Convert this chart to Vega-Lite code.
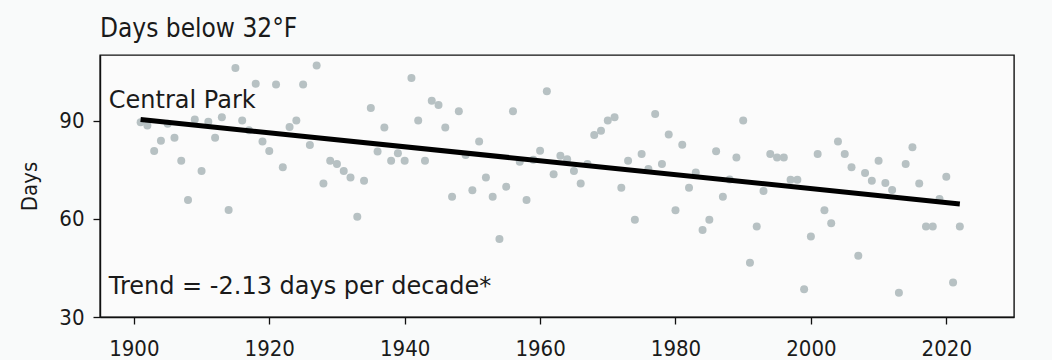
{
  "$schema": "https://vega.github.io/schema/vega-lite/v6.json",
  "autosize": {"type": "none"},
  "width": 914,
  "height": 262,
  "padding": {"left": 100, "top": 55, "right": 38, "bottom": 43},
  "background": "#f9fafa",
  "title": {"text": "Days below 32°F", "anchor": "start", "frame": "group", "fontSize": 26, "font": "DejaVu Sans Condensed, DejaVu Sans", "fontWeight": "normal", "color": "#1a1a1a", "offset": 13},
  "config": {
    "view": {"stroke": "#111111", "strokeWidth": 1.4, "fill": "#fbfbfb"},
    "axis": {"grid": false, "domainColor": "#111111", "domainWidth": 1.4, "tickColor": "#111111", "tickWidth": 1.3, "tickSize": 7, "labelFont": "DejaVu Sans Condensed, DejaVu Sans", "labelFontSize": 22, "labelColor": "#1a1a1a", "titleFont": "DejaVu Sans Condensed, DejaVu Sans", "titleFontWeight": "normal", "titleColor": "#1a1a1a"}
  },
  "datasets": {
    "days": [
      {"year": 1901, "days": 89.5}, {"year": 1902, "days": 88.5}, {"year": 1903, "days": 80.7}, {"year": 1904, "days": 83.8}, {"year": 1905, "days": 89}, {"year": 1906, "days": 84.7}, {"year": 1907, "days": 77.7}, {"year": 1908, "days": 65.7}, {"year": 1909, "days": 90.3}, {"year": 1910, "days": 74.6},
      {"year": 1911, "days": 89.6}, {"year": 1912, "days": 84.7}, {"year": 1913, "days": 91}, {"year": 1914, "days": 62.7}, {"year": 1915, "days": 106}, {"year": 1916, "days": 90}, {"year": 1917, "days": 87}, {"year": 1918, "days": 101.2}, {"year": 1919, "days": 83.6}, {"year": 1920, "days": 80.7},
      {"year": 1921, "days": 101}, {"year": 1922, "days": 75.7}, {"year": 1923, "days": 88}, {"year": 1924, "days": 90}, {"year": 1925, "days": 101}, {"year": 1926, "days": 82.5}, {"year": 1927, "days": 106.8}, {"year": 1928, "days": 70.8}, {"year": 1929, "days": 77.7}, {"year": 1930, "days": 76.7},
      {"year": 1931, "days": 74.6}, {"year": 1932, "days": 72.6}, {"year": 1933, "days": 60.6}, {"year": 1934, "days": 71.6}, {"year": 1935, "days": 93.8}, {"year": 1936, "days": 80.5}, {"year": 1937, "days": 87.9}, {"year": 1938, "days": 77.7}, {"year": 1939, "days": 80}, {"year": 1940, "days": 77.7},
      {"year": 1941, "days": 103}, {"year": 1942, "days": 90}, {"year": 1943, "days": 77.7}, {"year": 1944, "days": 96}, {"year": 1945, "days": 94.7}, {"year": 1946, "days": 87.9}, {"year": 1947, "days": 66.7}, {"year": 1948, "days": 92.8}, {"year": 1949, "days": 79.5}, {"year": 1950, "days": 68.7},
      {"year": 1951, "days": 83.6}, {"year": 1952, "days": 72.6}, {"year": 1953, "days": 66.7}, {"year": 1954, "days": 53.8}, {"year": 1955, "days": 69.8}, {"year": 1956, "days": 92.8}, {"year": 1957, "days": 77.4}, {"year": 1958, "days": 65.7}, {"year": 1959, "days": 78}, {"year": 1960, "days": 80.8},
      {"year": 1961, "days": 98.9}, {"year": 1962, "days": 73.6}, {"year": 1963, "days": 79.2}, {"year": 1964, "days": 78.2}, {"year": 1965, "days": 74.6}, {"year": 1966, "days": 70.8}, {"year": 1967, "days": 76.7}, {"year": 1968, "days": 85.6}, {"year": 1969, "days": 86.9}, {"year": 1970, "days": 90},
      {"year": 1971, "days": 91}, {"year": 1972, "days": 69.5}, {"year": 1973, "days": 77.7}, {"year": 1974, "days": 59.7}, {"year": 1975, "days": 79.8}, {"year": 1976, "days": 75.2}, {"year": 1977, "days": 92}, {"year": 1978, "days": 76.7}, {"year": 1979, "days": 85.7}, {"year": 1980, "days": 62.6},
      {"year": 1981, "days": 82.6}, {"year": 1982, "days": 69.5}, {"year": 1983, "days": 74.1}, {"year": 1984, "days": 56.6}, {"year": 1985, "days": 59.7}, {"year": 1986, "days": 80.6}, {"year": 1987, "days": 66.7}, {"year": 1988, "days": 72}, {"year": 1989, "days": 78.7}, {"year": 1990, "days": 90},
      {"year": 1991, "days": 46.6}, {"year": 1992, "days": 57.6}, {"year": 1993, "days": 68.5}, {"year": 1994, "days": 79.8}, {"year": 1995, "days": 78.7}, {"year": 1996, "days": 78.7}, {"year": 1997, "days": 71.9}, {"year": 1998, "days": 71.9}, {"year": 1999, "days": 38.5}, {"year": 2000, "days": 54.6},
      {"year": 2001, "days": 79.8}, {"year": 2002, "days": 62.6}, {"year": 2003, "days": 58.6}, {"year": 2004, "days": 83.6}, {"year": 2005, "days": 79.8}, {"year": 2006, "days": 75.7}, {"year": 2007, "days": 48.7}, {"year": 2008, "days": 74}, {"year": 2009, "days": 71.6}, {"year": 2010, "days": 77.7},
      {"year": 2011, "days": 70.9}, {"year": 2012, "days": 68.8}, {"year": 2013, "days": 37.4}, {"year": 2014, "days": 76.7}, {"year": 2015, "days": 81.8}, {"year": 2016, "days": 70.8}, {"year": 2017, "days": 57.6}, {"year": 2018, "days": 57.6}, {"year": 2019, "days": 66}, {"year": 2020, "days": 72.8},
      {"year": 2021, "days": 40.5}, {"year": 2022, "days": 57.6}
    ],
    "trend": [
      {"year": 1901, "days": 90.3},
      {"year": 2022, "days": 64.5}
    ]
  },
  "layer": [
    {"data": {"name": "days"}, "mark": {"type": "circle", "size": 64, "color": "#b7c1c3", "opacity": 1},
     "encoding": {
       "x": {"field": "year", "type": "quantitative", "scale": {"domain": [1895, 2030], "nice": false, "zero": false},
             "axis": {"title": null, "values": [1900, 1920, 1940, 1960, 1980, 2000, 2020], "format": "d", "labelPadding": 14}},
       "y": {"field": "days", "type": "quantitative", "scale": {"domain": [30, 110], "nice": false, "zero": false},
             "axis": {"title": "Days", "titleFontSize": 22, "titlePadding": 17, "values": [30, 60, 90], "labelPadding": 9}}
     }},
    {"data": {"name": "trend"}, "mark": {"type": "line", "color": "#000000", "strokeWidth": 5},
     "encoding": {
       "x": {"field": "year", "type": "quantitative"},
       "y": {"field": "days", "type": "quantitative"}
     }},
    {"data": {"values": [{"label": "Central Park"}]}, "mark": {"type": "text", "align": "left", "baseline": "alphabetic", "font": "DejaVu Sans", "fontSize": 24, "color": "#1a1a1a"},
     "encoding": {"text": {"field": "label"}, "x": {"datum": 1896.3}, "y": {"datum": 93.9}}},
    {"data": {"values": [{"label": "Trend = -2.13 days per decade*"}]}, "mark": {"type": "text", "align": "left", "baseline": "alphabetic", "font": "DejaVu Sans", "fontSize": 24, "color": "#1a1a1a"},
     "encoding": {"text": {"field": "label"}, "x": {"datum": 1896.3}, "y": {"datum": 37}}}
  ]
}
